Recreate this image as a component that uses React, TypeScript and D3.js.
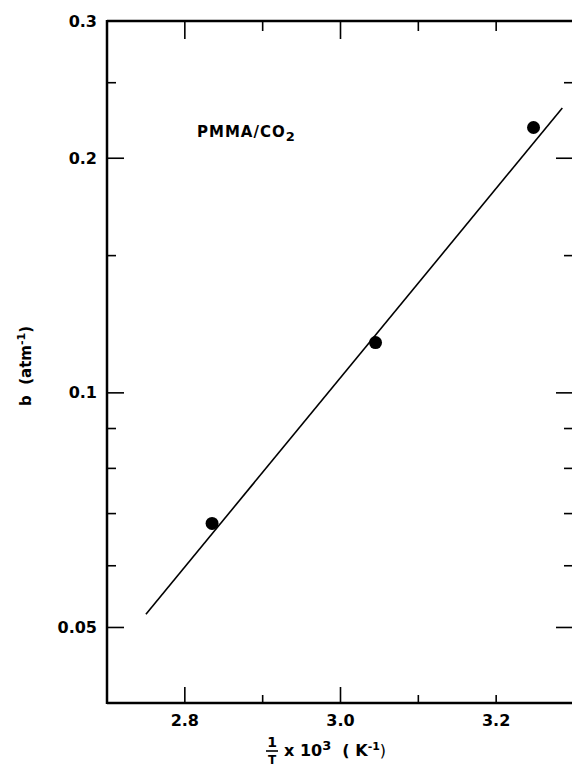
import React from 'react';
import * as d3 from 'd3';

// 1/T x 10^3 (K^-1) and b (atm^-1)
const invTemp = [2.835, 3.045, 3.248];
const bValues = [0.068, 0.116, 0.219];

// fitted line end points
const fitInvTemp = [2.75, 3.285];
const fitB = [0.052, 0.232];

const xLabelTicks = [2.8, 3.0, 3.2];
const xMajorTicks = [2.8, 3.0];
const xMinorTicks = [2.9, 3.1, 3.2];

const yLabelTicks = [0.05, 0.1, 0.2, 0.3];
const yMajorTicks = [0.05, 0.1, 0.2];
const yMinorTicks = [0.06, 0.07, 0.08, 0.09, 0.15, 0.25];

const W = 572;
const H = 777;
const left = 107;
const right = 574;
const top = 21;
const bottom = 703;

const font = "'DejaVu Sans', sans-serif";

export default function App() {
  const x = d3.scaleLinear().domain([2.7, 3.3]).range([left, right]);
  const y = d3.scaleLog().domain([0.04, 0.3]).range([bottom, top]);

  const fitLine = d3
    .line<number>()
    .x((d) => x(d))
    .y((_, i) => y(fitB[i]));

  const fmt = (v: number) => (v === 0.05 ? '0.05' : v.toFixed(1));

  return (
    <svg
      width={W}
      height={H}
      style={{ position: 'absolute', left: 0, top: 0, background: '#fff' }}
      fontFamily={font}
    >
      {/* frame (right side falls just outside the page) */}
      <g stroke="#000" strokeWidth={2.5} fill="none">
        <line x1={left} x2={left} y1={top - 1} y2={bottom + 1} />
        <line x1={left} x2={right} y1={top} y2={top} />
        <line x1={left} x2={right} y1={bottom} y2={bottom} />
      </g>

      {/* x ticks, bottom and top */}
      <g stroke="#000" strokeWidth={1.6}>
        {xMajorTicks.map((t) => (
          <g key={'xM' + t}>
            <line x1={x(t)} x2={x(t)} y1={bottom} y2={bottom - 16} />
            <line x1={x(t)} x2={x(t)} y1={top} y2={top + 18} />
          </g>
        ))}
        {xMinorTicks.map((t) => (
          <g key={'xm' + t}>
            <line x1={x(t)} x2={x(t)} y1={bottom} y2={bottom - 8} />
            <line x1={x(t)} x2={x(t)} y1={top} y2={top + 10} />
          </g>
        ))}
      </g>

      {/* y ticks, left and right */}
      <g stroke="#000" strokeWidth={1.6}>
        {yMajorTicks.map((t) => (
          <g key={'yM' + t}>
            <line x1={left} x2={left + 17} y1={y(t)} y2={y(t)} />
            <line x1={right} x2={right - 18} y1={y(t)} y2={y(t)} />
          </g>
        ))}
        {yMinorTicks.map((t) => (
          <g key={'ym' + t}>
            <line x1={left} x2={left + 9} y1={y(t)} y2={y(t)} />
            <line x1={right} x2={right - 10} y1={y(t)} y2={y(t)} />
          </g>
        ))}
      </g>

      {/* tick labels */}
      <g fontSize={16} fontWeight="bold" fill="#000">
        {yLabelTicks.map((t) => (
          <text key={'yl' + t} x={left - 10} y={y(t)} textAnchor="end" dominantBaseline="central">
            {fmt(t)}
          </text>
        ))}
        {xLabelTicks.map((t) => (
          <text key={'xl' + t} x={x(t)} y={bottom + 23} textAnchor="middle">
            {t.toFixed(1)}
          </text>
        ))}
      </g>

      {/* fit line */}
      <path d={fitLine(fitInvTemp) || ''} fill="none" stroke="#000" strokeWidth={1.6} />

      {/* data points */}
      {invTemp.map((t, i) => (
        <circle key={'p' + i} cx={x(t)} cy={y(bValues[i])} r={6.5} fill="#000" />
      ))}

      {/* annotation */}
      <text x={197} y={137} fontSize={15} fontWeight="bold" letterSpacing={1}>
        PMMA/CO<tspan fontSize={13} dy={4}>2</tspan>
      </text>

      {/* y axis title */}
      <text
        transform="translate(31,366) rotate(-90)"
        textAnchor="middle"
        fontSize={15}
        fontWeight="bold"
      >
        b{'\u00a0\u00a0'}(atm<tspan fontSize={11} dy={-6}>-1</tspan>
        <tspan dy={6}>)</tspan>
      </text>

      {/* x axis title */}
      <g fontWeight="bold">
        <text x={272} y={747} fontSize={14} textAnchor="middle">1</text>
        <line x1={266} x2={278} y1={751} y2={751} stroke="#000" strokeWidth={1.6} />
        <text x={272} y={764} fontSize={12} textAnchor="middle">T</text>
        <text x={284} y={756} fontSize={16}>
          x 10<tspan fontSize={13} dy={-6}>3</tspan>
          <tspan dy={6}>{'\u00a0\u00a0'}( K</tspan>
          <tspan fontSize={11} dy={-6}>-1</tspan>
          <tspan dy={6} fontWeight="normal">)</tspan>
        </text>
      </g>
    </svg>
  );
}
